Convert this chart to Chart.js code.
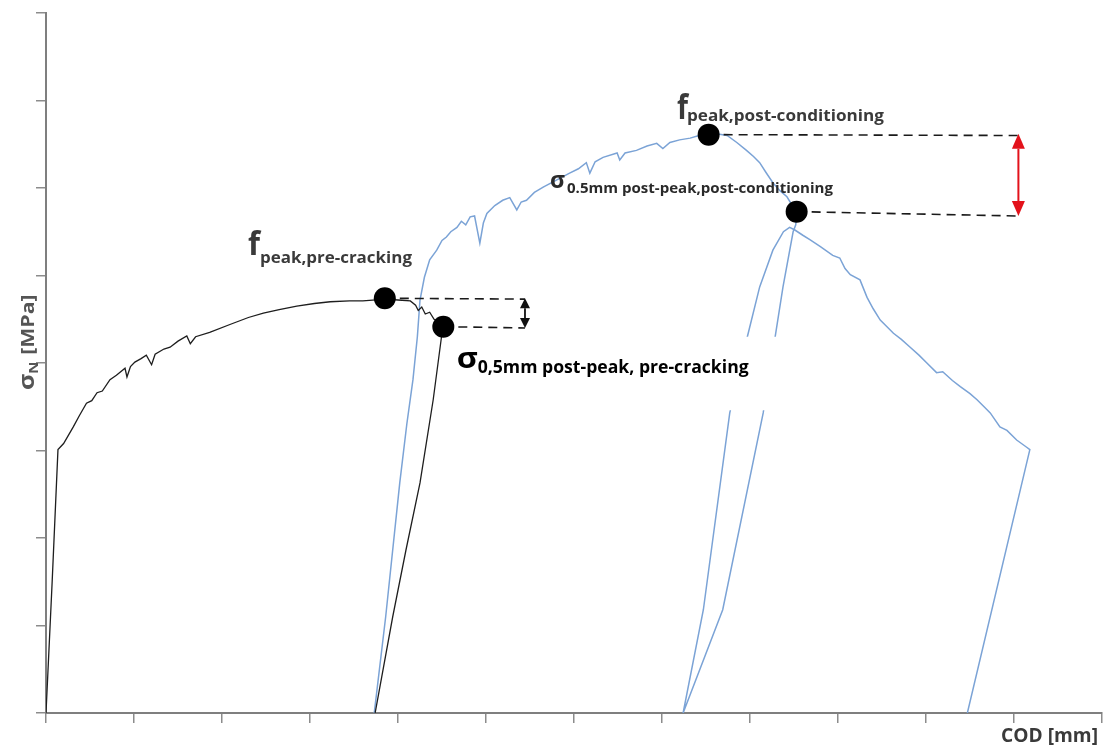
<!DOCTYPE html>
<html>
<head>
<meta charset="utf-8">
<script src="https://cdn.jsdelivr.net/npm/chart.js@4.4.1/dist/chart.umd.min.js"></script>
<style>
  html, body { margin: 0; padding: 0; background: #fff; }
  #wrap { width: 1103px; height: 747px; position: relative; }
</style>
</head>
<body>
<div id="wrap"><canvas id="codChart"></canvas></div>
<script>
// Pre-cracking test (black): COD [mm] vs sigma_N (axis units)
const preCrackCOD = [0, 0.07, 0.136, 0.20, 0.31, 0.38, 0.46, 0.52, 0.58, 0.64, 0.727, 0.80, 0.898, 0.92, 0.96,
    1.01, 1.08, 1.14, 1.20, 1.24, 1.34, 1.41, 1.50, 1.60, 1.64, 1.70, 1.86, 2.09, 2.30, 2.47, 2.65, 2.85,
    3.05, 3.23, 3.45, 3.60, 3.86, 4.00, 4.14, 4.20, 4.23, 4.27, 4.31, 4.36, 4.41, 4.46, 4.51,
    4.40, 4.25, 4.09, 3.94, 3.74];
const preCrackStress = [0, 1.50, 3.01, 3.08, 3.27, 3.40, 3.54, 3.57, 3.66, 3.68, 3.81, 3.86, 3.94, 3.84, 3.96,
    4.01, 4.05, 4.09, 3.98, 4.10, 4.16, 4.18, 4.25, 4.31, 4.22, 4.30, 4.35, 4.44, 4.52, 4.57, 4.61, 4.65,
    4.68, 4.70, 4.71, 4.71, 4.73, 4.72, 4.71, 4.66, 4.60, 4.64, 4.56, 4.58, 4.50, 4.47, 4.42,
    3.58, 2.63, 1.86, 1.10, 0];

// Post-conditioning test (blue)
const postCondCOD = [3.73, 3.86, 4.02, 4.10, 4.17, 4.22, 4.25, 4.30, 4.36, 4.44, 4.50, 4.55, 4.60, 4.67,
    4.72, 4.77, 4.82, 4.87, 4.93, 4.97, 5.01, 5.10, 5.19, 5.27, 5.35, 5.40, 5.46, 5.55, 5.65, 5.80, 5.95,
    6.05, 6.14, 6.18, 6.24, 6.33, 6.49, 6.52, 6.58, 6.71, 6.83, 6.94, 7.01, 7.09, 7.20, 7.32, 7.42, 7.53,
    7.62, 7.74, 7.85, 7.96, 8.04, 8.11, 8.18, 8.26, 8.34, 8.42, 8.48, 8.53, 8.52,
    8.49, 8.375, 8.15, 7.69, 7.24,
    7.47, 7.77, 7.96, 8.11, 8.26, 8.38, 8.45, 8.51,
    8.60, 8.68, 8.80, 8.94, 9.02, 9.08, 9.14, 9.25, 9.33, 9.40, 9.48, 9.63, 9.72, 9.82, 9.92, 10.01,
    10.12, 10.19, 10.30, 10.39, 10.50, 10.58, 10.66, 10.73, 10.84, 10.92, 11.03, 11.14, 11.18,
    10.47];
const postCondStress = [0, 1.10, 2.63, 3.30, 3.81, 4.30, 4.72, 4.98, 5.18, 5.29, 5.40, 5.44, 5.50, 5.55,
    5.62, 5.58, 5.67, 5.68, 5.37, 5.60, 5.71, 5.80, 5.86, 5.89, 5.75, 5.84, 5.86, 5.95, 6.01, 6.09, 6.17,
    6.22, 6.29, 6.17, 6.30, 6.35, 6.40, 6.32, 6.40, 6.43, 6.48, 6.51, 6.45, 6.52, 6.55, 6.57, 6.60, 6.61,
    6.62, 6.60, 6.52, 6.43, 6.36, 6.29, 6.18, 6.06, 5.97, 5.90, 5.80, 5.73, 5.58,
    5.50, 4.87, 3.43, 1.18, 0,
    1.18, 3.43, 4.26, 4.87, 5.29, 5.50, 5.55, 5.52,
    5.46, 5.41, 5.33, 5.23, 5.20, 5.08, 5.01, 4.95, 4.75, 4.62, 4.49, 4.34, 4.27, 4.18, 4.09, 4.00,
    3.89, 3.90, 3.80, 3.73, 3.65, 3.58, 3.50, 3.43, 3.27, 3.23, 3.12, 3.04, 3.01,
    0];

// Marked points: f_peak,pre / sigma_0.5 pre / f_peak,post / sigma_0.5 post
const markerCOD = [3.85, 4.515, 7.53, 8.53];
const markerStress = [4.74, 4.415, 6.61, 5.73];

// Dashed guides run from each marker to the range arrows
const guideEndCOD = [5.443, 5.443, 11.05, 11.05];
const guideEndStress = [4.73, 4.40, 6.60, 5.68];

// Axis ranges
const codMax = 12;
const stressMax = 8;

function zip(xs, ys) {
    return xs.map((v, i) => ({ x: v, y: ys[i] }));
}

const guideSets = markerCOD.map((c, i) => ({
    type: 'line',
    data: [{ x: c, y: markerStress[i] }, { x: guideEndCOD[i], y: guideEndStress[i] }],
    borderColor: '#1a1a1a',
    borderWidth: 1.6,
    borderDash: [9, 6],
    pointRadius: 0,
    order: 1
}));

function fitText(ctx, str, x, yBase, size, width, color) {
    ctx.save();
    ctx.font = 'bold ' + size + 'px "Open Sans", sans-serif';
    const w = ctx.measureText(str).width;
    ctx.translate(x, yBase);
    if (width) ctx.scale(width / w, 1);
    ctx.fillStyle = color;
    ctx.textBaseline = 'alphabetic';
    ctx.fillText(str, 0, 0);
    ctx.restore();
}

function doubleArrow(ctx, px, y1, y2, headW, headH, color, lw) {
    ctx.save();
    ctx.strokeStyle = color;
    ctx.fillStyle = color;
    ctx.lineWidth = lw;
    ctx.beginPath();
    ctx.moveTo(px, y1 + headH);
    ctx.lineTo(px, y2 - headH);
    ctx.stroke();
    ctx.beginPath();
    ctx.moveTo(px, y1);
    ctx.lineTo(px - headW / 2, y1 + headH);
    ctx.lineTo(px + headW / 2, y1 + headH);
    ctx.closePath();
    ctx.fill();
    ctx.beginPath();
    ctx.moveTo(px, y2);
    ctx.lineTo(px - headW / 2, y2 - headH);
    ctx.lineTo(px + headW / 2, y2 - headH);
    ctx.closePath();
    ctx.fill();
    ctx.restore();
}

// labels anchored at data coords, sub-script offset in px
const labelDefs = [
    { main: 'f', sub: 'peak,pre-cracking', at: [2.295, 5.234], mainSize: 32, mainW: 12, subSize: 15.5, subW: 152, dx: 12, dy: 8, color: '#3a3a3a' },
    { main: 'f', sub: 'peak,post-conditioning', at: [7.17, 6.79], mainSize: 34, mainW: 11, subSize: 16, subW: 197, dx: 10, dy: 2, color: '#3a3a3a' },
    { main: 'σ', sub: '0.5mm post-peak,post-conditioning', at: [5.727, 5.997], mainSize: 24, mainW: 15, subSize: 14, subW: 266, dx: 17, dy: 4.5, color: '#2a2a2a' },
    { main: 'σ', sub: '0,5mm post-peak, pre-cracking', at: [4.667, 3.939], mainSize: 28, mainW: 21, subSize: 18.5, subW: 271, dx: 21, dy: 5, color: '#000' }
];

const annotations = {
    id: 'annotations',
    afterDatasetsDraw(chart) {
        const ctx = chart.ctx;
        const xs = chart.scales.x;
        const ys = chart.scales.y;

        // white box behind the pre-cracking sigma label
        const bx1 = xs.getPixelForValue(4.59), bx2 = xs.getPixelForValue(8.32);
        const by1 = ys.getPixelForValue(4.30), by2 = ys.getPixelForValue(3.46);
        ctx.save();
        ctx.fillStyle = '#fff';
        ctx.fillRect(bx1, by1, bx2 - bx1, by2 - by1);
        ctx.restore();

        // range arrows
        doubleArrow(ctx, xs.getPixelForValue(5.443), ys.getPixelForValue(4.74), ys.getPixelForValue(4.40), 10, 10, '#111', 1.8);
        doubleArrow(ctx, xs.getPixelForValue(11.05), ys.getPixelForValue(6.62), ys.getPixelForValue(5.68), 13, 15, '#e3121b', 2);

        // text labels
        labelDefs.forEach(l => {
            const px = xs.getPixelForValue(l.at[0]);
            const py = ys.getPixelForValue(l.at[1]);
            fitText(ctx, l.main, px, py, l.mainSize, l.mainW, l.color);
            fitText(ctx, l.sub, px + l.dx, py + l.dy, l.subSize, l.subW, l.color);
        });

        // axis titles
        fitText(ctx, 'COD [mm]', 1001, 742, 19, 97, '#3a3a3a');

        ctx.save();
        ctx.translate(34, 390);
        ctx.rotate(-Math.PI / 2);
        ctx.scale(1.25, 1.05);
        ctx.fillStyle = '#555';
        ctx.font = 'bold 20px "Open Sans", sans-serif';
        ctx.fillText('σ', 0, 0);
        let w = ctx.measureText('σ').width;
        ctx.font = 'bold 12px "Open Sans", sans-serif';
        ctx.fillText('N', w, 4);
        w += ctx.measureText('N').width + 1;
        ctx.font = 'bold 17px "Open Sans", sans-serif';
        ctx.fillText(' [MPa]', w, 0);
        ctx.restore();
    }
};

const ctx = document.getElementById('codChart').getContext('2d');

new Chart(ctx, {
    type: 'scatter',
    data: {
        datasets: [
            {
                data: zip(markerCOD, markerStress),
                pointRadius: 11,
                pointBackgroundColor: '#000',
                pointBorderWidth: 0,
                showLine: false,
                order: 0
            },
            ...guideSets,
            {
                data: zip(preCrackCOD, preCrackStress),
                showLine: true,
                borderColor: '#1e1e1e',
                borderWidth: 1.3,
                pointRadius: 0,
                tension: 0,
                order: 2
            },
            {
                data: zip(postCondCOD, postCondStress),
                showLine: true,
                borderColor: '#7ba3d6',
                borderWidth: 1.5,
                pointRadius: 0,
                tension: 0,
                order: 3
            }
        ]
    },
    options: {
        responsive: true,
        maintainAspectRatio: false,
        animation: false,
        layout: { autoPadding: false, padding: { top: 13, right: 1, left: 0, bottom: 0 } },
        plugins: {
            legend: { display: false },
            tooltip: { enabled: false }
        },
        scales: {
            x: {
                type: 'linear',
                min: 0,
                max: codMax,
                ticks: { display: false, stepSize: 1 },
                grid: { drawOnChartArea: false, drawTicks: true, tickLength: 10, color: '#8c8c8c', lineWidth: 1.5 },
                border: { color: '#7f7f7f', width: 2 },
                afterFit: s => { s.height = 34; }
            },
            y: {
                type: 'linear',
                min: 0,
                max: stressMax,
                ticks: { display: false, stepSize: 1 },
                grid: { drawOnChartArea: false, drawTicks: true, tickLength: 10, color: '#8c8c8c', lineWidth: 1.5 },
                border: { color: '#7f7f7f', width: 2 },
                afterFit: s => { s.width = 46; }
            }
        }
    },
    plugins: [annotations]
});
</script>
</body>
</html>
